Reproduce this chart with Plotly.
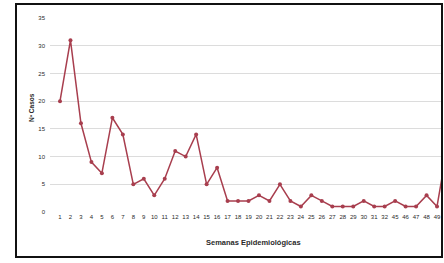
import plotly.graph_objects as go

weeks = [str(i) for i in range(1, 33)] + ["45", "46", "47", "48", "49", "50"]
cases = [20, 31, 16, 9, 7, 17, 14, 5, 6, 3, 6, 11, 10, 14, 5, 8, 2, 2, 2, 3,
         2, 5, 2, 1, 3, 2, 1, 1, 1, 2, 1, 1, 2, 1, 1, 3, 1, 12]
y_ticks = [0, 5, 10, 15, 20, 25, 30, 35]

W, H = 444, 263
PL, PR, PT, PB = 50, 443, 18, 212  # plot area in pixels
L, R, T, B = PL, W - PR, PT, H - PB
pw, ph = PR - PL, PB - PT

def px_x(p):
    return (p - PL) / pw

def px_y(p):
    return (PB - p) / ph

line_col = "#a83e4e"
txt_col = "#2a2a2a"

fig = go.Figure(go.Scatter(
    x=list(range(len(cases))), y=cases, mode="lines+markers",
    line=dict(color=line_col, width=1.5),
    marker=dict(color=line_col, size=4),
    cliponaxis=True, hoverinfo="skip"))

fig.update_layout(
    width=W, height=H, margin=dict(l=L, r=R, t=T, b=B, autoexpand=False),
    paper_bgcolor="white", plot_bgcolor="white", showlegend=False,
    font=dict(family="Liberation Sans", color=txt_col),
    xaxis=dict(range=[-0.955, 36.57], tickmode="array",
               tickvals=list(range(len(weeks) - 1)), ticktext=weeks[:-1],
               tickfont=dict(size=6, color=txt_col), showgrid=False,
               zeroline=False, showline=False, ticks="", automargin=False),
    yaxis=dict(range=[0, 35], tickvals=y_ticks, tickfont=dict(size=6, color=txt_col),
               showgrid=True, gridcolor="#dcdcdc", gridwidth=1, zeroline=False,
               showline=False, ticks="", ticklabelstandoff=4, automargin=False),
    shapes=[dict(type="rect", xref="paper", yref="paper",
                 x0=px_x(16), x1=px_x(442), y0=px_y(257), y1=px_y(4),
                 line=dict(color="#111111", width=2), fillcolor="rgba(0,0,0,0)",
                 layer="above")],
    annotations=[
        dict(text="<b>Semanas Epidemiológicas</b>", xref="paper", yref="paper",
             x=px_x(253), y=px_y(243), showarrow=False, xanchor="center", yanchor="middle",
             font=dict(size=7.5, color=txt_col)),
        dict(text="<b>Nº Casos</b>", xref="paper", yref="paper", textangle=-90,
             x=px_x(31), y=px_y(108), showarrow=False, xanchor="center", yanchor="middle",
             font=dict(size=6.5, color=txt_col)),
    ],
)

fig.write_html("out.html", config={"displayModeBar": False},
               post_script="document.body.style.margin='0';"
                           "document.body.style.overflow='hidden';")
